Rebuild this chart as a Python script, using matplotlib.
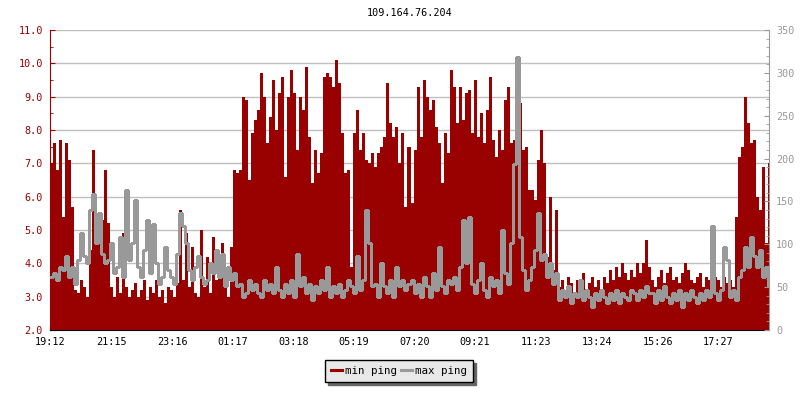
#!/usr/bin/env python3
"""Ping chart for 109.164.76.204: min ping (filled, left axis) and max ping (line, right axis)."""
import matplotlib
matplotlib.use("Agg")
import matplotlib.pyplot as plt
from matplotlib.lines import Line2D
from matplotlib.ticker import FormatStrFormatter, MultipleLocator
import numpy as np

TITLE = "109.164.76.204"
START = "19:12"
STEP_MIN = 6          # one sample every 6 minutes
SPAN_MIN = 1436

TIME_LABELS = ["19:12", "21:15", "23:16", "01:17", "03:18", "05:19",
               "07:20", "09:21", "11:23", "13:24", "15:26", "17:27"]

# min ping (left axis)
min_ping = [
    7.0, 7.6, 6.8, 7.7, 5.4, 7.6, 7.1, 5.7, 3.2, 3.1, 3.5, 3.3, 3.0, 4.4, 7.4, 5.0, 5.1, 5.3, 6.8, 5.2,
    3.3, 3.0, 3.6, 3.1, 4.9, 3.3, 3.0, 3.2, 3.4, 3.0, 3.2, 3.5, 2.9, 3.3, 3.1, 3.5, 3.0, 3.2, 2.8, 3.3,
    3.2, 3.0, 3.4, 5.6, 3.5, 4.9, 3.3, 4.5, 3.1, 3.0, 5.0, 3.3, 4.2, 3.1, 4.8, 3.5, 4.0, 4.6, 3.6, 3.0,
    4.5, 6.8, 6.7, 6.8, 9.0, 8.9, 6.5, 7.9, 8.3, 8.6, 9.7, 9.0, 7.6, 8.4, 9.5, 8.0, 9.1, 9.6, 6.6, 9.0,
    9.8, 9.1, 7.4, 9.0, 8.6, 9.9, 7.8, 6.4, 7.4, 6.7, 7.3, 9.6, 9.7, 9.6, 9.3, 10.1, 9.4, 7.9, 6.7, 6.8,
    3.9, 7.9, 8.6, 7.4, 7.9, 7.1, 7.0, 7.3, 6.9, 7.3, 7.5, 7.8, 9.4, 8.2, 7.8, 8.1, 7.0, 7.9, 5.7, 7.5,
    5.8, 7.4, 9.3, 7.8, 9.5, 9.0, 8.6, 8.9, 8.1, 7.6, 6.4, 7.9, 7.3, 9.8, 9.3, 8.2, 9.3, 8.3, 9.1, 9.2,
    7.9, 9.5, 7.8, 8.5, 7.6, 8.6, 9.6, 7.7, 7.2, 8.0, 7.4, 8.9, 9.3, 7.6, 7.7, 7.5, 8.8, 7.4, 7.5, 6.2,
    6.2, 5.9, 7.1, 8.0, 7.0, 4.2, 6.0, 3.8, 5.6, 3.3, 3.5, 3.2, 3.6, 3.4, 3.1, 3.5, 3.3, 3.7, 3.2, 3.4,
    3.6, 3.3, 3.5, 3.2, 3.6, 3.4, 3.8, 3.5, 3.9, 3.6, 4.0, 3.7, 3.5, 3.8, 3.6, 4.0, 3.7, 4.0, 4.7, 3.9,
    3.5, 3.3, 3.6, 3.8, 3.4, 3.7, 3.9, 3.5, 3.6, 3.4, 3.7, 4.0, 3.8, 3.5, 3.4, 3.6, 3.7, 3.3, 3.6, 3.5,
    3.4, 3.6, 3.5, 3.3, 3.6, 3.4, 3.5, 3.3, 5.4, 7.2, 7.5, 9.0, 8.2, 7.6, 7.7, 6.0, 5.6, 6.9, 4.6, 7.0,
]

# max ping (right axis)
max_ping = [
    62, 66, 58, 74, 70, 86, 62, 74, 54, 82, 113, 86, 78, 140, 159, 101, 136, 89, 78, 82,
    101, 66, 74, 109, 62, 163, 82, 101, 152, 74, 62, 93, 128, 66, 124, 78, 54, 62, 97, 70,
    62, 54, 89, 136, 121, 101, 70, 58, 74, 86, 62, 54, 58, 78, 66, 93, 62, 89, 51, 74,
    58, 66, 51, 54, 39, 43, 58, 47, 54, 43, 39, 58, 47, 54, 43, 74, 47, 39, 54, 43,
    58, 39, 89, 51, 62, 43, 54, 35, 51, 43, 58, 47, 74, 39, 51, 43, 54, 39, 47, 58,
    51, 43, 86, 47, 58, 140, 101, 51, 54, 39, 78, 51, 43, 58, 39, 74, 51, 58, 47, 54,
    58, 43, 54, 39, 62, 51, 39, 66, 47, 97, 51, 43, 58, 54, 62, 47, 74, 128, 78, 132,
    54, 43, 58, 78, 47, 39, 62, 51, 58, 43, 117, 66, 54, 101, 194, 318, 109, 70, 47, 58,
    74, 93, 136, 82, 89, 62, 78, 54, 66, 35, 47, 39, 51, 31, 43, 39, 58, 35, 47, 39,
    27, 43, 35, 47, 39, 31, 43, 35, 47, 31, 43, 39, 35, 47, 43, 35, 47, 39, 51, 43,
    43, 31, 47, 35, 51, 39, 31, 43, 35, 47, 27, 43, 35, 47, 39, 31, 43, 35, 47, 39,
    121, 43, 35, 47, 97, 82, 39, 47, 35, 62, 70, 97, 74, 109, 86, 74, 93, 62, 74, 51,
]

RED = "#990000"
GREY = "#999999"
GRID = "#c0c0c0"
FS = 7.3

plt.rcParams["font.family"] = ["DejaVu Sans Mono"]


def minutes_since(label, start=START):
    h, m = map(int, label.split(":"))
    h0, m0 = map(int, start.split(":"))
    return (h * 60 + m - h0 * 60 - m0) % 1440


def main():
    edges = np.arange(len(min_ping) + 1) * STEP_MIN

    fig = plt.figure(figsize=(8, 4), dpi=100)
    ax = fig.add_axes([50 / 800, 70 / 400, 719 / 800, 300 / 400])
    ax.stairs(min_ping, edges, baseline=2.0, fill=True, color=RED,
              lw=0, antialiased=False, zorder=2)
    ax.set_xlim(0, SPAN_MIN)
    ax.set_ylim(2, 11)
    ax.yaxis.set_major_locator(MultipleLocator(1))
    ax.yaxis.set_minor_locator(MultipleLocator(0.5))
    ax.yaxis.set_major_formatter(FormatStrFormatter("%.1f"))
    ax.set_xticks([minutes_since(t) for t in TIME_LABELS])
    ax.set_xticklabels(TIME_LABELS)
    ax.yaxis.grid(True, color=GRID, lw=1.0)
    ax.set_axisbelow(True)
    ax.tick_params(axis="y", which="major", direction="in", length=3.6,
                   color=RED, labelcolor=RED, pad=5, labelsize=FS)
    ax.tick_params(axis="y", which="minor", direction="in", length=2.2, color=RED)
    ax.tick_params(axis="x", direction="in", length=3.6, color="black",
                   pad=5, labelsize=FS)
    ax.spines["left"].set_color(RED)
    ax.spines["right"].set_visible(False)
    ax.spines["top"].set_visible(False)
    ax.spines["bottom"].set_color("black")

    ax2 = ax.twinx()
    # step line: repeat the last value so the final step reaches the right edge
    ax2.plot(edges, max_ping + max_ping[-1:], drawstyle="steps-post",
             color=GREY, lw=0.8, antialiased=False, zorder=3)
    ax2.set_ylim(0, 350)
    ax2.yaxis.set_major_locator(MultipleLocator(50))
    ax2.yaxis.set_minor_locator(MultipleLocator(10))
    ax2.tick_params(axis="y", which="major", direction="in", length=3.6,
                    color=GREY, labelcolor=GREY, pad=5, labelsize=FS)
    ax2.tick_params(axis="y", which="minor", direction="in", length=2.2, color=GREY)
    for side in ("left", "top", "bottom"):
        ax2.spines[side].set_visible(False)
    ax2.spines["right"].set_color(GREY)

    fig.text(409.5 / 800, 1 - 13 / 400, TITLE, ha="center", va="center",
             fontsize=FS, color="black")

    handles = [Line2D([], [], color=RED, lw=2.2), Line2D([], [], color=GREY, lw=2.2)]
    leg = fig.legend(handles, ["min ping", "max ping"], loc="center",
                     bbox_to_anchor=(399 / 800, 1 - 371 / 400), ncol=2,
                     frameon=True, fancybox=False,
                     shadow={"color": "#666666", "alpha": 1.0},
                     handlelength=1.0, handletextpad=0.3, columnspacing=0.4,
                     borderpad=0.55, fontsize=FS + 0.5)
    frame = leg.get_frame()
    frame.set_facecolor("#e8e8e8")
    frame.set_edgecolor("black")
    frame.set_linewidth(1.0)
    frame.set_alpha(1.0)

    fig.savefig("out.png", dpi=100)
    plt.close(fig)


if __name__ == "__main__":
    main()
